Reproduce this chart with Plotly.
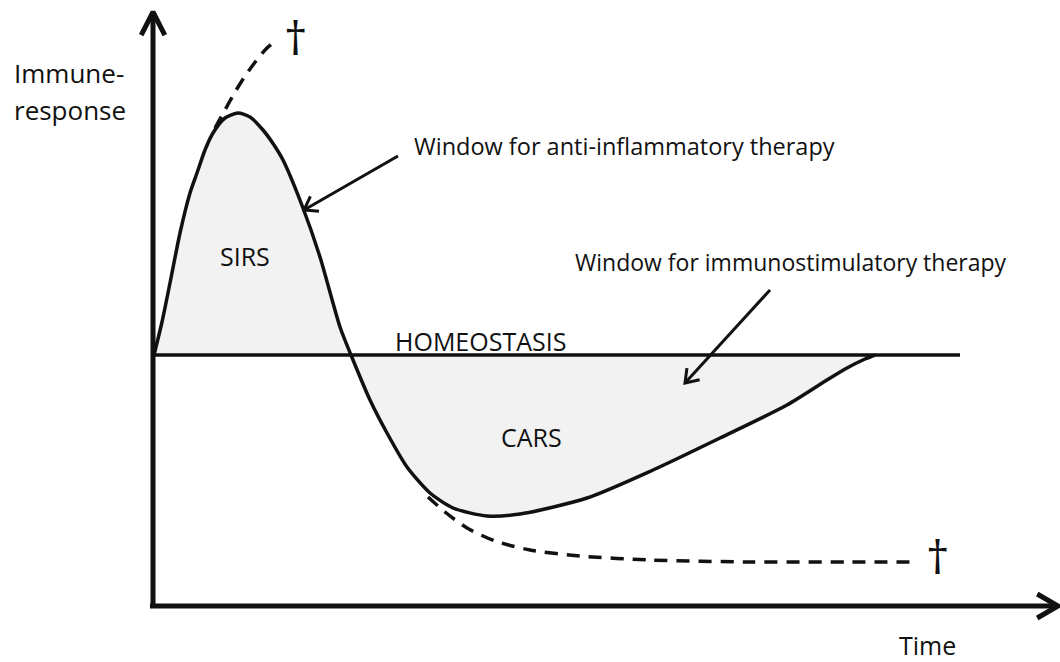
import math
import plotly.graph_objects as go

# ---- schematic data (time units, response relative to homeostasis) ----
main_t = [0, 8, 16, 26, 36, 43, 51, 59, 71, 84, 96, 109, 120, 129, 149, 166, 186, 197, 216, 233, 253, 276, 299, 333, 366, 433, 499, 566, 633, 673, 693, 711, 721]
main_r = [0, 33, 72, 122, 162, 182, 205, 222, 237, 242, 238, 225, 210, 195, 147, 98, 28, 0, -45, -78, -112, -138, -153, -161, -159, -143, -115, -83, -50, -25, -13, -4, 0]

sirs_death_t = [61, 71, 81, 91, 102, 112, 124]
sirs_death_r = [227, 245, 263, 279, 294, 306, 316]

cars_death_t = [274, 291, 313, 341, 376, 426, 496, 596, 696, 764]
cars_death_r = [-142, -157, -173, -186, -195, -201, -205, -207, -207, -207]

homeostasis_t = [0, 806]
homeostasis_r = [0, 0]

# axes extents
x_axis_t = [-4, 904]
x_axis_r = -251
y_axis_t = -1
y_axis_r = [-251, 343]

# labels: (text, t, r, xanchor, size)
labels = [
    ("Immune-", -142, 282, "left", 26),
    ("response", -142, 245, "left", 26),
    ("Window for anti-inflammatory therapy", 258, 209, "left", 23.5),
    ("Window for immunostimulatory therapy", 419, 93, "left", 23),
    ("SIRS", 91, 99, "center", 25),
    ("HOMEOSTASIS", 326, 14, "center", 25),
    ("CARS", 377, -82, "center", 25),
    ("Time", 773, -290, "center", 25),
]
daggers = [(141, 318), (783, -201)]

# annotation arrows: (start_t, start_r, tip_t, tip_r)
pointer_arrows = [
    (244, 199, 150, 145),
    (616, 65, 531, -28),
]

FONT = "Open Sans"
INK = "#111111"


def arrow_path(x0, y0, x1, y1, L, ang_deg):
    dx, dy = x1 - x0, y1 - y0
    n = math.hypot(dx, dy)
    ux, uy = -dx / n, -dy / n
    a = math.radians(ang_deg)
    legs = []
    for s in (1, -1):
        c, si = math.cos(s * a), math.sin(s * a)
        lx = ux * c - uy * si
        ly = ux * si + uy * c
        legs.append((x1 + L * lx, y1 + L * ly))
    xs = [x0, x1, None, legs[0][0], x1, legs[1][0]]
    ys = [y0, y1, None, legs[0][1], y1, legs[1][1]]
    return xs, ys


fig = go.Figure()

# main curve with shaded SIRS / CARS areas
fig.add_trace(go.Scatter(x=main_t, y=main_r, mode="lines", fill="tozeroy",
                         fillcolor="#f2f2f2",
                         line=dict(color=INK, width=3.5, shape="spline", smoothing=0.7),
                         hoverinfo="skip"))
# homeostasis line
fig.add_trace(go.Scatter(x=homeostasis_t, y=homeostasis_r, mode="lines",
                         line=dict(color=INK, width=3.5), hoverinfo="skip"))
# dashed death trajectories
fig.add_trace(go.Scatter(x=sirs_death_t, y=sirs_death_r, mode="lines",
                         line=dict(color=INK, width=3.5, dash="13px,9px", shape="spline", smoothing=0.7),
                         hoverinfo="skip"))
fig.add_trace(go.Scatter(x=cars_death_t, y=cars_death_r, mode="lines",
                         line=dict(color=INK, width=3.5, dash="13px,9px", shape="spline", smoothing=0.7),
                         hoverinfo="skip"))

# axes with arrow heads
xs, ys = arrow_path(x_axis_t[0], x_axis_r, x_axis_t[1], x_axis_r, 24, 30)
fig.add_trace(go.Scatter(x=xs, y=ys, mode="lines", line=dict(color=INK, width=5),
                         hoverinfo="skip"))
xs, ys = arrow_path(y_axis_t, y_axis_r[0], y_axis_t, y_axis_r[1], 26, 27)
fig.add_trace(go.Scatter(x=xs, y=ys, mode="lines", line=dict(color=INK, width=5),
                         hoverinfo="skip"))

# pointer arrows
for (a, b, c, d) in pointer_arrows:
    xs, ys = arrow_path(a, b, c, d, 15, 35)
    fig.add_trace(go.Scatter(x=xs, y=ys, mode="lines", line=dict(color=INK, width=3),
                             hoverinfo="skip"))

annotations = []
for text, t, r, xa, size in labels:
    annotations.append(dict(x=t, y=r, text=text, showarrow=False, xanchor=xa,
                            yanchor="middle", font=dict(family=FONT, size=size, color=INK)))
for t, r in daggers:
    annotations.append(dict(x=t, y=r, text="†", showarrow=False, xanchor="center",
                            yanchor="middle", font=dict(family=FONT, size=46, color=INK)))

fig.update_layout(
    width=1060, height=662,
    margin=dict(l=0, r=0, t=0, b=0),
    paper_bgcolor="white", plot_bgcolor="white",
    showlegend=False,
    xaxis=dict(range=[-154, 906], visible=False, fixedrange=True),
    yaxis=dict(range=[-307, 355], visible=False, fixedrange=True),
    annotations=annotations,
)

fig.write_html("out.html", post_script="document.body.style.margin='0';",
               config={"displayModeBar": False})
